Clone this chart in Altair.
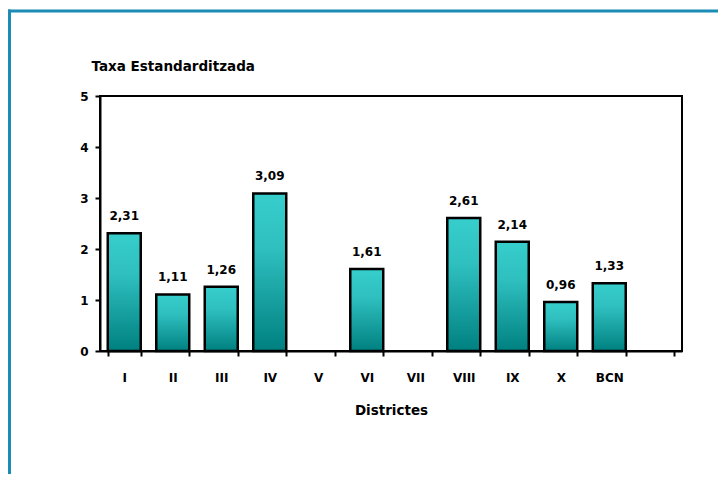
import altair as alt
import pandas as pd

districts = ["I", "II", "III", "IV", "V", "VI", "VII", "VIII", "IX", "X", "BCN"]
rates = [2.31, 1.11, 1.26, 3.09, None, 1.61, None, 2.61, 2.14, 0.96, 1.33]
domain = districts + [" "]
y_ticks = [0, 1, 2, 3, 4, 5]

rows = []
for d, v in zip(districts, rates):
    if v is not None:
        rows.append({"district": d, "rate": v, "label": f"{v:.2f}".replace(".", ",")})
df = pd.DataFrame(rows)

FONT = "DejaVu Sans"
x_scale = alt.Scale(domain=domain, paddingInner=0.32, paddingOuter=0.16)

x_enc = alt.X(
    "district:N",
    scale=x_scale,
    axis=alt.Axis(
        title="Districtes",
        labelAngle=0,
        tickBand="extent",
        tickSize=5,
        tickWidth=2,
        tickColor="black",
        domainColor="black",
        domainWidth=2,
        labelPadding=16,
        labelFontSize=12,
        labelFontWeight="bold",
        labelColor="black",
        titleFontSize=13.5,
        titleFontWeight="bold",
        titleColor="black",
        titleY=63,
        titleBaseline="alphabetic",
        grid=False,
    ),
)

y_enc = alt.Y(
    "rate:Q",
    scale=alt.Scale(domain=[0, 5], nice=False),
    axis=alt.Axis(
        title="Taxa Estandarditzada",
        values=y_ticks,
        tickSize=5,
        tickWidth=2,
        tickColor="black",
        domainColor="black",
        domainWidth=2,
        labelPadding=7,
        labelFontSize=12,
        labelFontWeight="bold",
        labelColor="black",
        titleAngle=0,
        titleAlign="left",
        titleBaseline="alphabetic",
        titleX=-9,
        titleY=-26,
        titleFontSize=13.5,
        titleFontWeight="bold",
        titleColor="black",
        grid=False,
    ),
)

gradient = alt.Gradient(
    gradient="linear",
    stops=[
        alt.GradientStop(color="#36CECC", offset=0),
        alt.GradientStop(color="#2FBFBF", offset=0.35),
        alt.GradientStop(color="#008080", offset=1),
    ],
    x1=0, x2=0, y1=0, y2=1,
)

base = alt.Chart(df)

bars = base.mark_bar(color=gradient, stroke="black", strokeWidth=2.5).encode(x=x_enc, y=y_enc)

labels = base.mark_text(
    font=FONT, fontSize=12, fontWeight="bold", color="black",
    baseline="alphabetic", dy=-13,
).encode(x=alt.X("district:N", scale=x_scale), y=alt.Y("rate:Q"), text="label:N")

one = pd.DataFrame({"k": [0]})
frame_top = alt.Chart(one).mark_rule(color="#1A8CB5", strokeWidth=3, clip=False).encode(
    x=alt.value(-92), x2=alt.value(620), y=alt.value(-85)
)
frame_left = alt.Chart(one).mark_rule(color="#1A8CB5", strokeWidth=3, clip=False).encode(
    x=alt.value(-90.5), y=alt.value(-86.5), y2=alt.value(400)
)

chart = alt.layer(frame_top, frame_left, bars, labels).properties(
    width=582,
    height=255,
    autosize=alt.AutoSizeParams(type="none"),
    padding={"left": 92, "top": 88, "right": 36, "bottom": 123},
).configure(font=FONT).configure_view(stroke="black", strokeWidth=2)

chart.save("out.html", embed_options={"renderer": "svg", "actions": False})
